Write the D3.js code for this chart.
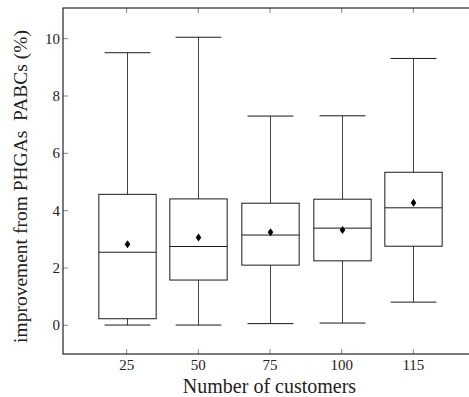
<!DOCTYPE html>
<html>
<head>
<meta charset="utf-8">
<script src="https://cdn.jsdelivr.net/npm/d3@7"></script>
<style>
  html, body { margin: 0; padding: 0; background: #fff; }
  svg { display: block; }
  text { font-family: "Liberation Serif", "DejaVu Serif", serif; fill: #222; }
</style>
</head>
<body>
<svg id="chart" width="469" height="397"></svg>
<script>
// ---- data ----
const categories = ["25", "50", "75", "100", "115"];
const whiskerLow  = [0.01, 0.01, 0.06, 0.08, 0.81];
const q1          = [0.23, 1.58, 2.10, 2.25, 2.76];
const median      = [2.55, 2.75, 3.15, 3.39, 4.10];
const q3          = [4.57, 4.41, 4.26, 4.40, 5.34];
const whiskerHigh = [9.51, 10.05, 7.30, 7.31, 9.31];
const mean        = [2.83, 3.06, 3.25, 3.33, 4.28];
const yTicks = [0, 2, 4, 6, 8, 10];
const xLabel = "Number of customers";
const yLabel = "improvement from PHGAs\u00a0\u00a0PABCs (%)";

// ---- layout ----
const svg = d3.select("#chart");
const pLeft = 63, pRight = 477, pTop = 8, pBottom = 354;

const x = d3.scaleLinear().domain([-0.888, categories.length - 1 + 0.888]).range([pLeft, pRight]);
const y = d3.scaleLinear().domain([-1, 11.07]).range([pBottom, pTop]);

const boxW = x(0.4) - x(0);
const capW = x(0.32) - x(0);
const tickLen = 5;
const tickColor = "#888";

// ticks (inward)
const g = svg.append("g");
yTicks.forEach(v => {
  g.append("line").attr("x1", pLeft).attr("x2", pLeft + tickLen)
    .attr("y1", y(v)).attr("y2", y(v)).attr("stroke", tickColor);
  g.append("line").attr("x1", pRight).attr("x2", pRight - tickLen)
    .attr("y1", y(v)).attr("y2", y(v)).attr("stroke", tickColor);
  g.append("text").attr("x", pLeft - 3).attr("y", y(v) + 5)
    .attr("text-anchor", "end")
    .attr("font-size", 15).text(v);
});
categories.forEach((c, i) => {
  g.append("line").attr("x1", x(i)).attr("x2", x(i))
    .attr("y1", pBottom).attr("y2", pBottom - tickLen).attr("stroke", tickColor);
  g.append("line").attr("x1", x(i)).attr("x2", x(i))
    .attr("y1", pTop).attr("y2", pTop + tickLen).attr("stroke", tickColor);
  g.append("text").attr("x", x(i)).attr("y", 370)
    .attr("text-anchor", "middle").attr("font-size", 15).text(c);
});

// boxes
const stroke = "#1a1a1a";
const bx = svg.append("g");
categories.forEach((c, i) => {
  const cx = Math.round(x(i)) + 0.5;
  bx.append("line").attr("x1", cx).attr("x2", cx).attr("y1", y(q3[i])).attr("y2", y(whiskerHigh[i])).attr("stroke", "#444");
  bx.append("line").attr("x1", cx).attr("x2", cx).attr("y1", y(q1[i])).attr("y2", y(whiskerLow[i])).attr("stroke", "#444");
  bx.append("line").attr("x1", cx - capW).attr("x2", cx + capW).attr("y1", y(whiskerHigh[i])).attr("y2", y(whiskerHigh[i])).attr("stroke", stroke);
  bx.append("line").attr("x1", cx - capW).attr("x2", cx + capW).attr("y1", y(whiskerLow[i])).attr("y2", y(whiskerLow[i])).attr("stroke", stroke);
  bx.append("rect").attr("x", cx - boxW).attr("width", 2 * boxW)
    .attr("y", y(q3[i])).attr("height", y(q1[i]) - y(q3[i]))
    .attr("fill", "none").attr("stroke", stroke);
  bx.append("line").attr("x1", cx - boxW).attr("x2", cx + boxW)
    .attr("y1", y(median[i])).attr("y2", y(median[i])).attr("stroke", stroke);
  const my = y(mean[i]);
  bx.append("path").attr("d", `M${cx},${my - 4}L${cx + 2.8},${my}L${cx},${my + 4}L${cx - 2.8},${my}Z`).attr("fill", "#000");
});

// frame
svg.append("rect").attr("x", pLeft).attr("y", pTop).attr("width", pRight - pLeft).attr("height", pBottom - pTop)
  .attr("fill", "none").attr("stroke", "#222").attr("stroke-width", 1.2);

// axis labels
svg.append("text").attr("x", 269.5).attr("y", 393)
  .attr("text-anchor", "middle").attr("font-size", 20).text(xLabel);
svg.append("text").attr("transform", `translate(27,186.5) rotate(-90)`)
  .attr("text-anchor", "middle").attr("font-size", 19.5).text(yLabel);
</script>
</body>
</html>
